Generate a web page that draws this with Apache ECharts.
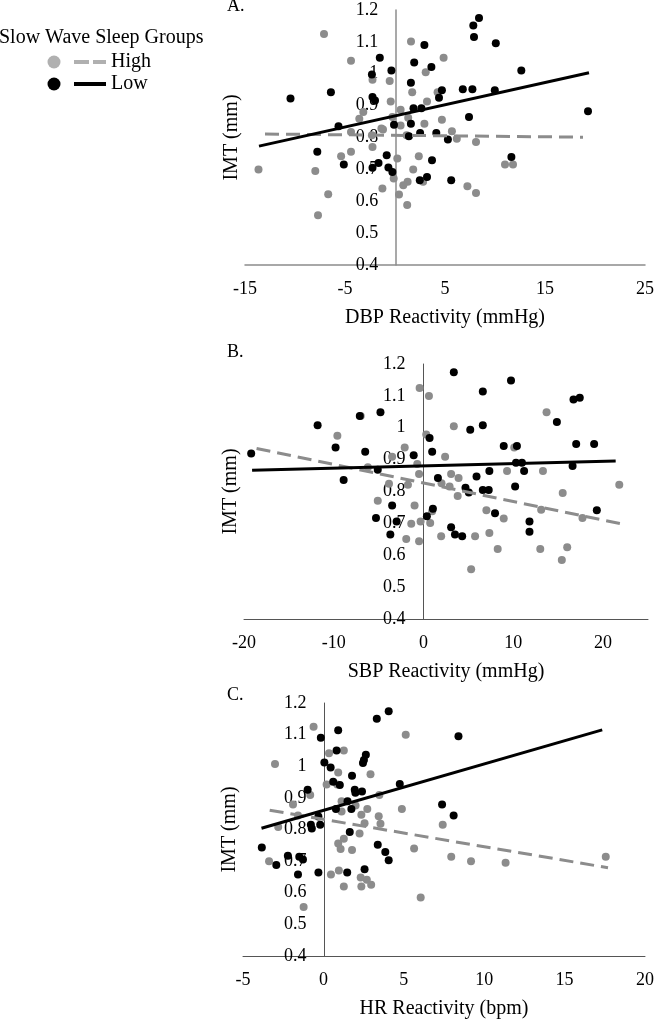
<!DOCTYPE html>
<html>
<head>
<meta charset="utf-8">
<script src="https://cdn.jsdelivr.net/npm/echarts@6/dist/echarts.min.js"></script>
<style>
html,body{margin:0;padding:0;background:#fff;}
#chart{width:657px;height:1020px;}
</style>
</head>
<body>
<div id="chart"></div>
<script>
// ---------- DATA ----------
const groupNames = ['High', 'Low'];
const yTicks = { min: 0.4, max: 1.2, interval: 0.1 };
const xTitles = ['DBP Reactivity (mmHg)', 'SBP Reactivity (mmHg)', 'HR Reactivity (bpm)'];
const yTitle = 'IMT (mm)';
const panelLabels = ['A.', 'B.', 'C.'];

// Panel A: DBP reactivity vs IMT
const dbpHigh = [
  [-7.1,1.125],[-4.4,1.041],[1.6,1.101],[4.86,1.05],[3.07,1.005],[-2.25,0.981],[-0.53,0.977],
  [1.72,0.942],[4.26,0.942],[-0.43,0.913],[3.2,0.913],[-3.17,0.88],[0.56,0.887],[-3.57,0.859],
  [-0.26,0.864],[1.32,0.862],[4.69,0.856],[2.94,0.843],[0.56,0.838],[-1.36,0.828],[-4.4,0.817],
  [5.69,0.82],[1.16,0.807],[6.18,0.796],[8.1,0.786],[-2.25,0.77],[-4.4,0.755],[-5.39,0.741],
  [2.38,0.741],[0.23,0.734],[-13.65,0.70],[-7.97,0.695],[1.82,0.70],[11.0,0.715],[11.8,0.715],
  [-0.13,0.671],[1.26,0.661],[0.83,0.65],[2.81,0.661],[-1.26,0.64],[7.24,0.647],[8.1,0.626],
  [-6.68,0.622],[0.4,0.621],[1.22,0.588],[-7.7,0.556],[-2.31,0.807],[-1.2,0.825]
];
const dbpLow = [
  [8.4,1.175],[7.83,1.151],[7.9,1.115],[2.94,1.09],[10.08,1.096],[-1.52,1.05],[1.92,1.035],
  [-0.36,1.01],[3.64,1.021],[12.63,1.01],[-2.31,0.998],[1.59,0.972],[-6.41,0.942],[-10.45,0.922],
  [-2.25,0.927],[-2.0,0.916],[4.69,0.948],[6.78,0.951],[7.74,0.951],[9.98,0.948],[4.4,0.925],
  [1.85,0.892],[2.64,0.892],[7.4,0.864],[19.3,0.882],[-5.65,0.835],[-0.1,0.84],[1.59,0.843],
  [2.51,0.814],[4.13,0.814],[1.39,0.804],[5.29,0.794],[-7.77,0.755],[-0.83,0.744],[11.64,0.739],
  [3.7,0.729],[-1.65,0.72],[-5.12,0.715],[-2.25,0.705],[-0.66,0.706],[-0.26,0.692],[3.2,0.676],
  [2.48,0.666],[5.62,0.666]
];
const dbpHighTrend = [[-13.0,0.811],[18.8,0.801]];
const dbpLowTrend = [[-13.6,0.773],[19.4,1.003]];

// Panel B: SBP reactivity vs IMT
const sbpHigh = [
  [-0.44,1.125],[0.6,1.1],[-7.0,1.037],[-9.6,0.975],[-2.1,0.938],[-3.5,0.909],[0.3,0.979],
  [3.37,1.005],[2.4,0.909],[-0.7,0.886],[-0.5,0.855],[-6.2,0.876],[-3.85,0.824],[-1.74,0.821],
  [-5.1,0.771],[2.0,0.826],[3.07,0.855],[3.9,0.842],[2.9,0.816],[3.8,0.786],[9.3,0.864],
  [10.1,0.938],[13.3,0.864],[13.7,1.049],[15.5,0.795],[21.8,0.821],[7.0,0.741],[13.1,0.743],
  [17.7,0.717],[-1.0,0.756],[0.96,0.738],[0.74,0.701],[-0.33,0.706],[-1.37,0.699],[-1.93,0.651],
  [-0.5,0.644],[1.96,0.66],[5.74,0.66],[7.33,0.67],[8.93,0.715],[8.26,0.62],[13.0,0.62],
  [16.0,0.625],[15.4,0.585],[5.3,0.556]
];
const sbpLow = [
  [-19.2,0.919],[-11.8,1.008],[-9.8,0.938],[-8.9,0.836],[-7.1,1.037],[-6.5,0.925],[-4.8,1.049],
  [-5.1,0.868],[-3.5,0.756],[-5.3,0.717],[-3.7,0.665],[-3.0,0.706],[-1.1,0.914],[0.67,0.968],
  [0.96,0.925],[1.6,0.842],[1.04,0.746],[0.37,0.722],[3.37,1.174],[5.2,0.994],[6.6,1.114],
  [6.6,1.008],[5.9,0.847],[4.67,0.812],[5.04,0.797],[6.6,0.805],[7.26,0.805],[7.33,0.864],
  [3.07,0.688],[3.5,0.665],[4.3,0.66],[7.96,0.732],[8.93,0.943],[9.74,1.148],[10.4,0.943],
  [10.3,0.89],[10.96,0.89],[11.2,0.864],[10.2,0.816],[11.8,0.706],[11.8,0.674],[14.85,1.018],
  [16.6,0.88],[16.7,1.089],[17.4,1.094],[17.0,0.949],[19.0,0.949],[19.3,0.741]
];
const sbpHighTrend = [[-18.6,0.935],[22.1,0.698]];
const sbpLowTrend = [[-19.1,0.867],[21.4,0.896]];

// Panel C: HR reactivity vs IMT
const hrHigh = [
  [-0.61,1.125],[5.12,1.1],[-3.01,1.007],[0.35,1.041],[1.27,1.05],[0.92,0.98],[2.93,0.975],
  [0.2,0.942],[0.86,0.942],[-0.82,0.909],[3.48,0.909],[-1.89,0.879],[1.13,0.889],[1.13,0.857],
  [2.0,0.876],[2.73,0.865],[4.88,0.865],[2.36,0.847],[3.44,0.842],[-1.58,0.844],[2.56,0.82],
  [3.55,0.818],[-2.81,0.808],[7.42,0.815],[2.25,0.787],[1.27,0.771],[0.92,0.756],[1.07,0.738],
  [1.78,0.735],[5.64,0.74],[-3.38,0.70],[7.95,0.714],[9.18,0.70],[11.33,0.695],[17.56,0.714],
  [0.47,0.658],[0.96,0.67],[2.32,0.648],[2.7,0.641],[2.97,0.625],[2.36,0.62],[1.27,0.62],
  [6.05,0.585],[-1.23,0.555]
];
const hrLow = [
  [4.06,1.174],[3.32,1.15],[0.92,1.114],[8.4,1.095],[-0.16,1.09],[0.82,1.05],[2.64,1.036],
  [2.52,1.02],[2.46,1.01],[0.06,1.012],[0.45,0.996],[1.78,0.97],[0.61,0.951],[1.02,0.941],
  [4.75,0.944],[-0.98,0.926],[1.95,0.926],[1.99,0.916],[2.4,0.92],[1.5,0.889],[1.74,0.865],
  [0.78,0.865],[7.38,0.879],[8.1,0.844],[-0.31,0.841],[-0.78,0.815],[-0.72,0.803],[-0.2,0.815],
  [1.64,0.792],[-3.83,0.743],[3.38,0.752],[3.85,0.729],[4.06,0.703],[-2.21,0.717],[-1.5,0.714],
  [-1.27,0.705],[-2.93,0.688],[-1.58,0.658],[-0.31,0.664],[1.48,0.664],[2.56,0.674]
];
const hrHighTrend = [[-3.34,0.861],[17.7,0.679]];
const hrLowTrend = [[-3.85,0.804],[17.34,1.115]];

const xRanges = [
  { min: -15, max: 25, interval: 10 },
  { min: -20, max: 25, interval: 10 },
  { min: -5, max: 20, interval: 5 }
];

// ---------- STYLE / LAYOUT ----------
const FONT = 'Liberation Serif';
const grayPt = '#8c8c8c';
const grayLine = '#8c8c8c';
const grayLegend = '#b0b0b0';
const grids = [
  { left: 245, top: 10, width: 403, height: 255 },
  { left: 244, top: 364, width: 404, height: 255 },
  { left: 243, top: 703, width: 407, height: 255 }
];
const axisColors = ['#8c8c8c', '#555555', '#555555'];
const labelTops = [-3, 343, 686];

const panels = [
  { high: dbpHigh, low: dbpLow, highT: dbpHighTrend, lowT: dbpLowTrend },
  { high: sbpHigh, low: sbpLow, highT: sbpHighTrend, lowT: sbpLowTrend },
  { high: hrHigh, low: hrLow, highT: hrHighTrend, lowT: hrLowTrend }
];

const xAxes = [], yAxes = [], series = [];
panels.forEach((p, i) => {
  const r = xRanges[i];
  xAxes.push({
    gridIndex: i, type: 'value',
    min: r.min, max: r.max, interval: r.interval,
    name: xTitles[i], nameLocation: 'middle', nameGap: 43,
    nameTextStyle: { fontFamily: FONT, fontSize: 20, color: '#000' },
    axisLine: { onZero: false, lineStyle: { color: axisColors[i], width: i === 0 ? 1.5 : 1 } },
    axisTick: { show: false },
    splitLine: { show: false },
    axisLabel: { fontFamily: FONT, fontSize: 18, color: '#000', margin: 15,
                 showMaxLabel: i !== 1 }
  });
  // y axis drawn where x = 0 (inside the grid)
  const zeroOffset = -grids[i].width * (0 - r.min) / (r.max - r.min);
  yAxes.push({
    gridIndex: i, type: 'value', position: 'left', offset: zeroOffset,
    min: yTicks.min, max: yTicks.max, interval: yTicks.interval,
    axisLine: { show: true, onZero: false, lineStyle: { color: axisColors[i], width: i === 0 ? 1.5 : 1 } },
    axisTick: { show: false },
    splitLine: { show: false },
    axisLabel: { fontFamily: FONT, fontSize: 18, color: '#000', margin: 18 },
    z: 1
  });
});
// hidden y axes carrying the axis titles at the left edge of each grid
panels.forEach((p, i) => {
  yAxes.push({
    gridIndex: i, type: 'value', position: 'left', offset: 0, min: 0, max: 1,
    name: yTitle, nameLocation: 'middle', nameGap: 3,
    nameTextStyle: { fontFamily: FONT, fontSize: 20, color: '#000' },
    axisLine: { show: false, onZero: false }, axisTick: { show: false },
    axisLabel: { show: false }, splitLine: { show: false }
  });
});

panels.forEach((p, i) => {
  series.push({
    name: 'High', type: 'scatter', xAxisIndex: i, yAxisIndex: i,
    data: p.high, symbolSize: 8, itemStyle: { color: grayPt, opacity: 1 }, z: 2
  });
  series.push({
    name: 'Low', type: 'scatter', xAxisIndex: i, yAxisIndex: i,
    data: p.low, symbolSize: 8, itemStyle: { color: '#000', opacity: 1 }, z: 3
  });
  series.push({
    name: 'High', type: 'line', xAxisIndex: i, yAxisIndex: i,
    data: p.highT, showSymbol: false, symbol: 'none',
    lineStyle: { color: grayLine, width: 3, type: [14, 7] }, itemStyle: { color: grayLine }, z: 4
  });
  series.push({
    name: 'Low', type: 'line', xAxisIndex: i, yAxisIndex: i,
    data: p.lowT, showSymbol: false, symbol: 'none',
    lineStyle: { color: '#000', width: 3 }, itemStyle: { color: '#000' }, z: 5
  });
});

const titles = [{
  text: 'Slow Wave Sleep Groups', left: -1, top: 28, padding: 0,
  textStyle: { fontFamily: FONT, fontSize: 20, fontWeight: 'normal', color: '#000' }
}];
panelLabels.forEach((t, i) => titles.push({
  text: t, left: 227, top: labelTops[i], padding: 0,
  textStyle: { fontFamily: FONT, fontSize: 18, fontWeight: 'normal', color: '#000' }
}));

const option = {
  animation: false,
  backgroundColor: '#fff',
  title: titles,
  grid: grids,
  xAxis: xAxes,
  yAxis: yAxes,
  legend: [
    {
      orient: 'vertical', left: 47.5, top: 55.5, itemWidth: 13, itemHeight: 13, itemGap: 9,
      selectedMode: false, padding: 0,
      formatter: () => '', textStyle: { fontSize: 1 },
      data: [
        { name: groupNames[0], icon: 'circle', itemStyle: { color: grayLegend } },
        { name: groupNames[1], icon: 'circle', itemStyle: { color: '#000' } }
      ]
    },
    {
      orient: 'vertical', left: 74, top: 52, itemWidth: 32, itemHeight: 4, itemGap: 2,
      selectedMode: false, padding: 0,
      textStyle: { fontFamily: FONT, fontSize: 20, color: '#000' },
      data: [
        { name: groupNames[0], icon: 'path://M0,0H15V4H0Z M19,0H32V4H19Z', itemStyle: { color: grayLegend } },
        { name: groupNames[1], icon: 'rect', itemStyle: { color: '#000' } }
      ]
    }
  ],
  series: series
};

const chart = echarts.init(document.getElementById('chart'), null, { renderer: 'canvas' });
chart.setOption(option);
</script>
</body>
</html>
